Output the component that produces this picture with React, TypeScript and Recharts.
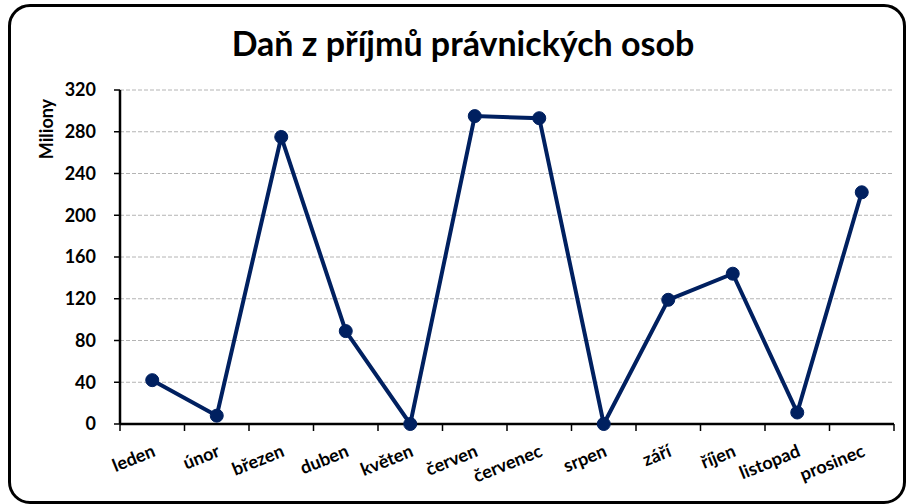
import { LineChart, Line, XAxis, YAxis, CartesianGrid } from "recharts";

const months = ["leden", "únor", "březen", "duben", "květen", "červen", "červenec", "srpen", "září", "říjen", "listopad", "prosinec"];
const values = [42, 8, 275, 89, 0, 295, 293, 0, 119, 144, 11, 222];
const yTicks = [0, 40, 80, 120, 160, 200, 240, 280, 320];

const data = months.map((m, i) => ({ month: m, value: values[i] }));

const FONT = "Lato, 'Open Sans', sans-serif";
const NAVY = "#002060";
const CHART_W = 906;
const M_LEFT = 120;
const M_RIGHT = 12;
const STEP = (CHART_W - M_LEFT - M_RIGHT) / months.length;

function MonthTick(props: any) {
  const { x, y, payload, index } = props;
  const last = index === months.length - 1;
  return (
    <g transform={`translate(${x},${y - 8})`}>
      <line x1={-STEP / 2} x2={-STEP / 2} y1={0} y2={7} stroke="#000" strokeWidth={1.5} />
      {last && <line x1={STEP / 2} x2={STEP / 2} y1={0} y2={7} stroke="#000" strokeWidth={1.5} />}
      <text
        x={-8}
        y={31}
        textAnchor="end"
        transform="rotate(-22)"
        fontFamily={FONT}
        fontWeight={700}
        fontSize={18}
        fill="#000"
      >
        {payload.value}
      </text>
    </g>
  );
}

function YLabel() {
  return (
    <text
      x={46}
      y={129}
      transform="rotate(-90, 46, 129)"
      textAnchor="middle"
      dominantBaseline="central"
      fontFamily={FONT}
      fontWeight={700}
      fontSize={18}
      fill="#000"
    >
      Miliony
    </text>
  );
}

export default function App() {
  return (
    <div style={{ position: "fixed", left: 0, top: 0, width: 906, height: 504, background: "#fff" }}>
      <div
        style={{
          position: "absolute",
          left: 8,
          top: 4,
          width: 892,
          height: 494,
          border: "3px solid #000",
          borderRadius: 22,
        }}
      />
      <div
        style={{
          position: "absolute",
          left: 0,
          top: 22,
          width: 926,
          textAlign: "center",
          fontFamily: FONT,
          fontWeight: 700,
          fontSize: 34,
          color: "#000",
        }}
      >
        Daň z příjmů právnických osob
      </div>
      <div style={{ position: "absolute", left: 0, top: 0 }}>
        <LineChart width={CHART_W} height={504} data={data} margin={{ top: 90, right: M_RIGHT, bottom: 0, left: 0 }}>
          <CartesianGrid vertical={false} stroke="#b4b4b4" strokeDasharray="4 2" />
          <XAxis
            dataKey="month"
            scale="band"
            interval={0}
            tick={<MonthTick />}
            tickLine={false}
            axisLine={{ stroke: "#000", strokeWidth: 2.5 }}
            height={80}
          />
          <YAxis
            domain={[0, 320]}
            ticks={yTicks}
            width={M_LEFT}
            tickSize={6}
            tickMargin={18}
            axisLine={{ stroke: "#000", strokeWidth: 2.5 }}
            tickLine={{ stroke: "#000", strokeWidth: 1.5 }}
            tick={{ fontFamily: FONT, fontWeight: 700, fontSize: 18, fill: "#000" }}
            label={<YLabel />}
          />
          <Line
            dataKey="value"
            stroke={NAVY}
            strokeWidth={4}
            dot={{ r: 6.5, fill: NAVY, stroke: NAVY, strokeWidth: 1 }}
            activeDot={false}
            isAnimationActive={false}
          />
        </LineChart>
      </div>
    </div>
  );
}
